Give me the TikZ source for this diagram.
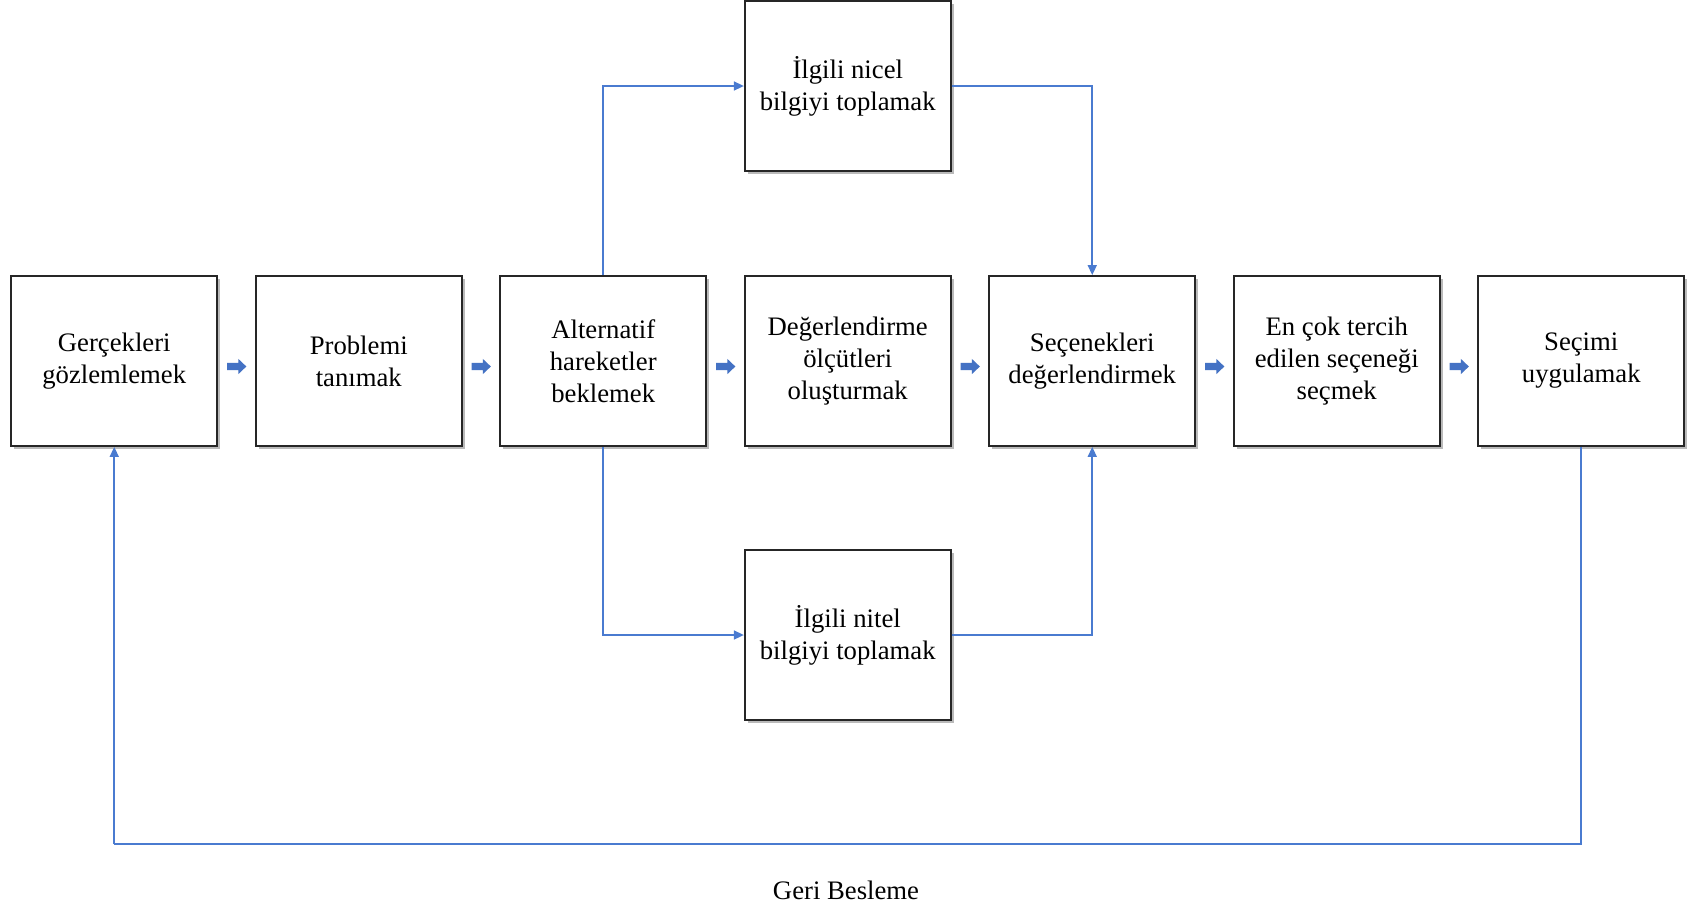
\documentclass[tikz,border=0pt]{standalone}
\usepackage{fontspec}
\setmainfont{Liberation Serif}
\usetikzlibrary{arrows.meta,shadows,calc}
\definecolor{conn}{HTML}{4A7BD0}
\definecolor{blk}{HTML}{4472C4}
\tikzset{
  box/.style={draw=black!85, line width=1.8pt, fill=white, minimum width=206pt, minimum height=170pt,
    inner sep=0pt, align=center, font=\fontsize{26.7}{32}\selectfont,
    drop shadow={shadow xshift=3pt, shadow yshift=-3pt, opacity=0.45, fill=black!60}},
  conn/.style={draw=conn, line width=1.6pt, -{Triangle[length=10pt,width=9pt]}},
  line/.style={draw=conn, line width=1.6pt},
  blockarrow/.style={draw=none, fill=blk},
}
\begin{document}
\begin{tikzpicture}[x=1pt,y=-1pt]
\useasboundingbox[fill=white] (0,0) rectangle (1697,906);
\node[box] (b1) at (114.25,361) {Gerçekleri\\gözlemlemek};
\node[box] (b2) at (358.75,361) {Problemi\\tanımak};
\node[box] (b3) at (603.25,361) {Alternatif\\hareketler\\beklemek};
\node[box] (b4) at (847.75,361) {Değerlendirme\\ölçütleri\\oluşturmak};
\node[box] (b5) at (1092.25,361) {Seçenekleri\\değerlendirmek};
\node[box] (b6) at (1336.75,361) {En çok tercih\\edilen seçeneği\\seçmek};
\node[box] (b7) at (1581.25,361) {Seçimi\\uygulamak};
\node[box] (t) at (847.75,86) {İlgili nicel\\bilgiyi toplamak};
\node[box] (u) at (847.75,635) {İlgili nitel\\bilgiyi toplamak};
\node (fb) at (846,890) {\fontsize{26.7}{32}\selectfont Geri Besleme};
\coordinate (fbr) at (1581.25,844);
\coordinate (fbl) at (114.25,844);
% block arrows
\foreach \a/\b in {b1/b2,b2/b3,b3/b4,b4/b5,b5/b6,b6/b7}{
  \path let \p1=(\a.east), \p2=(\b.west) in
    coordinate (s) at ($(\x1,366.5)+(9,0)$)
    coordinate (e) at ($(\x2,366.5)+(-8.5,0)$);
  \fill[blockarrow] ($(s)+(0,-3.6)$) -- ($(e)+(-8,-3.6)$) -- ($(e)+(-8,-7.6)$) -- (e)
     -- ($(e)+(-8,7.6)$) -- ($(e)+(-8,3.6)$) -- ($(s)+(0,3.6)$) -- cycle;
}
% branches
\draw[conn] (b3.north) |- (t.west);
\draw[conn] (t.east) -| (b5.north);
\draw[conn] (b3.south) |- (u.west);
\draw[conn] (u.east) -| (b5.south);
% feedback
\draw[line] (b7.south) -- (fbr) -- (fbl);
\draw[conn] (fbl) -- (b1.south);
\end{tikzpicture}
\end{document}
